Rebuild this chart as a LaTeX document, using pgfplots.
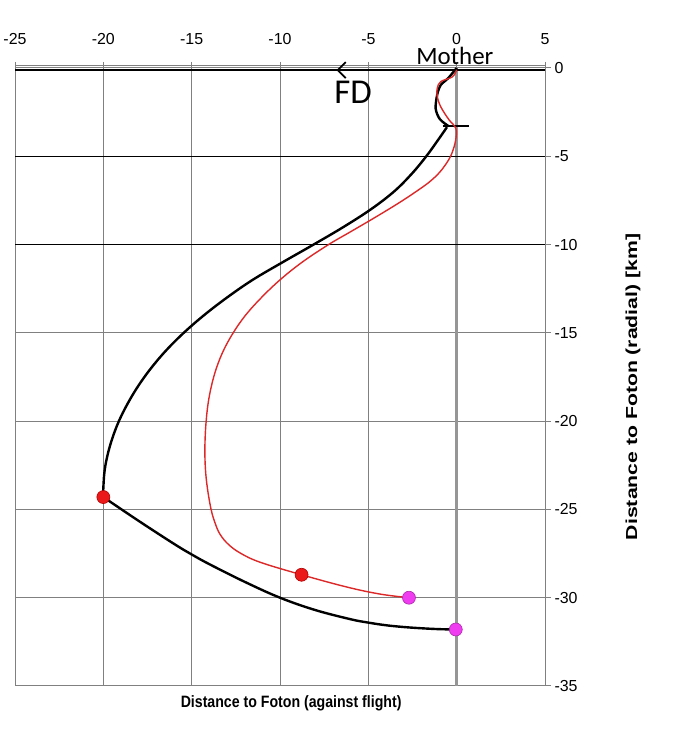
\documentclass[border=0pt]{standalone}
\usepackage{pgfplots}
\pgfplotsset{compat=1.18}
\usepackage{fontspec}
\setmainfont{Liberation Sans}
\newfontfamily\calibri{Carlito}
\usetikzlibrary{arrows.meta}

\definecolor{gridgray}{RGB}{128,128,128}
\definecolor{zerogray}{RGB}{150,150,150}
\definecolor{redline}{RGB}{220,40,40}
\definecolor{reddot}{RGB}{235,25,25}
\definecolor{mag}{RGB}{240,60,240}

\begin{document}
\begin{tikzpicture}[x=1bp,y=1bp]
\useasboundingbox (-15,-48) rectangle (662,686);
\begin{axis}[
  at={(0,0)}, anchor=south west,
  scale only axis, width=530bp, height=618bp,
  xmin=-25, xmax=5, ymin=-35, ymax=0,
  xtick={-25,-20,...,5}, ytick={-35,-30,...,0},
  xtick pos=top, xticklabel pos=top,
  ytick pos=right, yticklabel pos=right,
  tick align=outside, major tick length=6bp,
  tick style={gridgray, line width=1bp},
  grid=major, grid style={gridgray, line width=1bp},
  axis line style={gridgray, line width=1bp},
  /pgf/number format/assume math mode=true,
  ticklabel style={font=\fontsize{16}{16}\selectfont},
  xticklabel style={yshift=14bp},
  extra y ticks={-5,-10},
  extra y tick labels={},
  extra y tick style={grid style={black, line width=1bp}, major tick length=0pt},
  extra x ticks={0},
  extra x tick labels={},
  extra x tick style={grid style={zerogray, line width=3bp}, major tick length=0pt},
  clip=false,
  xlabel={\scalebox{0.86}[1]{Distance to Foton (against flight)}},
  xlabel style={font=\bfseries\fontsize{16.5}{16.5}\selectfont, at={(axis description cs:0.521,0)}, anchor=center, yshift=-17bp},
  ylabel={\scalebox{1.33}[1]{Distance to Foton (radial) [km]}},
  ylabel style={font=\bfseries\fontsize{16}{16}\selectfont, at={([xshift=88bp]axis description cs:1,0.484)}, anchor=center},
]
% top double line and arrow
\draw[gridgray, line width=1bp] (axis cs:-25,0.15) -- (axis cs:5,0.15);
\draw[black, line width=1.3bp] (axis cs:-25,-0.12) -- (axis cs:5,-0.12);
\draw[black, line width=1.8bp, -{Straight Barb[length=8bp,width=16bp,line width=1.8bp]}] (axis cs:-1.0,-0.12) -- (axis cs:-6.8,-0.12);
\node[anchor=base, font=\calibri\fontsize{25}{25}\selectfont, inner sep=0pt] at (axis cs:-0.1,0.17) {Mother};
\node[anchor=base, font=\calibri\fontsize{35}{35}\selectfont, inner sep=0pt] at (axis cs:-5.86,-2.03) {FD};

% black curve: loop near the mother
\addplot[black, line width=2.4bp, smooth, tension=0.5] coordinates {
(0,0) (-0.5,-0.6) (-0.9,-0.96) (-1.1,-1.5) (-1.19,-2.3) (-0.95,-2.9) (-0.45,-3.3)
};
\addplot[black, line width=2.4bp] coordinates {(-0.8,-3.3) (0.68,-3.3)};
% black curve: outward arc
\addplot[black, line width=2.4bp, smooth, tension=0.6] coordinates {
(-0.55,-3.35) (-1.0,-4.0) (-1.72,-5.0) (-2.55,-6.0) (-3.55,-7.0) (-4.85,-8.0) (-6.4,-9.0)
(-8.1,-10.0) (-9.85,-11.0) (-11.55,-12.0) (-13.0,-13.0) (-14.3,-14.0) (-15.45,-15.0)
(-16.45,-16.0) (-17.3,-17.0) (-18.02,-18.0) (-18.62,-19.0) (-19.12,-20.0) (-19.5,-21.0)
(-19.78,-22.0) (-19.95,-23.0) (-20.02,-24.3)
};
% black curve: return arc
\addplot[black, line width=2.4bp, smooth, tension=0.6] coordinates {
(-20.0,-24.3) (-18,-25.65) (-16,-26.95) (-15,-27.55) (-14,-28.1) (-12,-29.1) (-10,-30.0)
(-8,-30.7) (-6,-31.22) (-5,-31.41) (-4,-31.56) (-3,-31.66) (-2,-31.73) (-1,-31.78) (-0.05,-31.8)
};
% red curve
\addplot[redline, line width=1.4bp, smooth, tension=0.6] coordinates {
(0,-0.1) (-0.24,-0.5) (-0.9,-0.77) (-1.1,-1.15) (-1.1,-1.6) (-0.9,-2.2) (-0.43,-2.94)
(-0.05,-3.4) (-0.06,-4.1) (-0.3,-4.9) (-0.65,-5.5) (-1.05,-6.0) (-1.6,-6.5) (-2.3,-7.0)
(-3.05,-7.5) (-3.85,-8.0) (-4.85,-8.6) (-6.05,-9.3) (-7.25,-10.0) (-8.75,-11.0) (-10.0,-12.0)
(-11.05,-13.0) (-11.95,-14.0) (-12.65,-15.0) (-13.2,-16.0) (-13.6,-17.0) (-13.88,-18.0)
(-14.07,-19.0) (-14.18,-20.0) (-14.24,-21.0) (-14.25,-22.0) (-14.2,-23.0) (-14.08,-24.0)
(-13.9,-25.0) (-13.7,-25.7) (-13.4,-26.4) (-12.9,-27.0) (-12.2,-27.5) (-11.1,-28.0)
(-8.78,-28.7) (-6.2,-29.4) (-4.3,-29.8) (-2.7,-30.0)
};
% markers
\addplot[only marks, mark=*, mark size=6.5bp, mark options={fill=reddot, draw=red!70!black, line width=0.6bp}] coordinates {(-20.0,-24.3) (-8.78,-28.7)};
\addplot[only marks, mark=*, mark size=6.5bp, mark options={fill=mag, draw=mag!70!black, line width=0.6bp}] coordinates {(-2.7,-30.0) (-0.05,-31.8)};
\end{axis}
\end{tikzpicture}
\end{document}
